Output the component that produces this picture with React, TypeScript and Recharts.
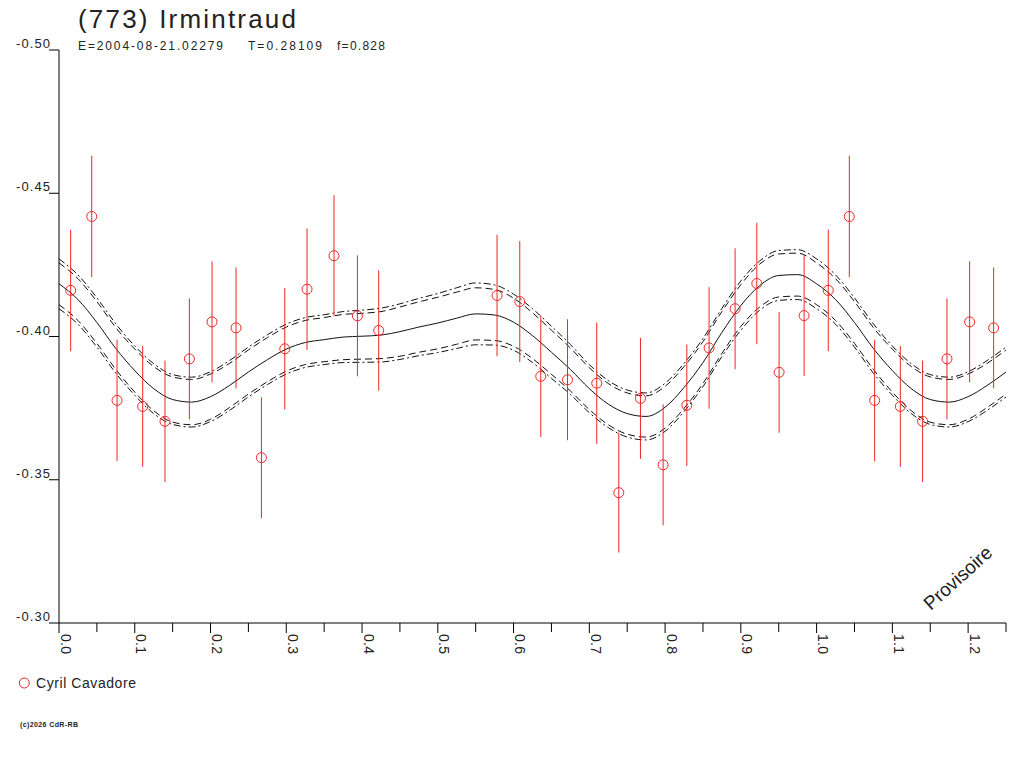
import React from "react";
import { ComposedChart, Line, Scatter, ErrorBar, XAxis, YAxis } from "recharts";

// observations (phase, reduced magnitude, 1-sigma)
const phases = [
  0.0154, 0.0432, 0.0766, 0.1105, 0.1399, 0.1721, 0.202, 0.2337, 0.2672, 0.298,
  0.3274, 0.363, 0.3939, 0.422, 0.5782, 0.6082, 0.6359, 0.6712, 0.7098, 0.7389,
  0.7675, 0.7974, 0.8287, 0.8581, 0.8924, 0.9211, 0.9505, 0.9835,
];
const mags = [
  -0.4161, -0.4419, -0.3777, -0.3756, -0.3704, -0.3922, -0.4051, -0.403, -0.3577, -0.3957,
  -0.4165, -0.4282, -0.4072, -0.4021, -0.4143, -0.4122, -0.3861, -0.3849, -0.3837, -0.3455,
  -0.3784, -0.3552, -0.376, -0.396, -0.4097, -0.4185, -0.3875, -0.4073,
];
const errs = [
  0.0212, 0.0212, 0.0212, 0.0211, 0.0212, 0.0211, 0.0211, 0.0211, 0.0211, 0.0212,
  0.0212, 0.0211, 0.0211, 0.021, 0.0212, 0.0211, 0.0212, 0.0211, 0.0212, 0.0209,
  0.0211, 0.0211, 0.0212, 0.0212, 0.0211, 0.0212, 0.0211, 0.0211,
];

// fitted curve, sampled every 0.025 in phase over one cycle
const fitStep = 0.025;
const fitMag = [
  -0.4184, -0.4129, -0.4049, -0.3958, -0.3881, -0.3818, -0.378, -0.3771, -0.379, -0.3829,
  -0.3876, -0.3919, -0.3956, -0.3979, -0.3989, -0.3998, -0.4001, -0.4005, -0.4017, -0.4033,
  -0.4047, -0.4064, -0.4079, -0.4075, -0.405, -0.4003, -0.3945, -0.3885, -0.3818, -0.3764,
  -0.3731, -0.3721, -0.3753, -0.3822, -0.3909, -0.4014, -0.4108, -0.4178, -0.4213, -0.4216,
  -0.4184,
];
// half widths of the two envelopes around the fit (dashed, dash-dot)
const innerHalf = [
  0.0073, 0.0073, 0.0073, 0.0073, 0.0075, 0.0077, 0.0079, 0.0079, 0.0079, 0.0077,
  0.0077, 0.0077, 0.0077, 0.0077, 0.0077, 0.0079, 0.008, 0.0082, 0.0086, 0.0088,
  0.009, 0.0091, 0.0091, 0.0089, 0.0084, 0.008, 0.0077, 0.0075, 0.0073, 0.0072,
  0.0072, 0.0072, 0.0073, 0.0073, 0.0073, 0.0073, 0.0073, 0.0075, 0.0075, 0.0075,
  0.0073,
];
const outerHalf = [
  0.0087, 0.0086, 0.0086, 0.0086, 0.0086, 0.0087, 0.0087, 0.0087, 0.0087, 0.0087,
  0.0087, 0.0087, 0.0087, 0.0087, 0.0087, 0.0089, 0.0091, 0.0094, 0.0097, 0.01,
  0.0103, 0.0106, 0.0108, 0.0105, 0.0098, 0.0094, 0.0091, 0.0087, 0.0084, 0.0082,
  0.0082, 0.0082, 0.0084, 0.0084, 0.0084, 0.0084, 0.0086, 0.0086, 0.0087, 0.0087,
  0.0087,
];

const xTicks = [
  0, 0.05, 0.1, 0.15, 0.2, 0.25, 0.3, 0.35, 0.4, 0.45, 0.5, 0.55, 0.6,
  0.65, 0.7, 0.75, 0.8, 0.85, 0.9, 0.95, 1.0, 1.05, 1.1, 1.15, 1.2, 1.25,
];
const yTicks = [-0.5, -0.45, -0.4, -0.35, -0.3];

const title = "(773) Irmintraud";
const epochText = "E=2004-08-21.02279";
const periodText = "T=0.28109";
const fracText = "f=0.828";
const observer = "Cyril Cavadore";
const copyright = "(c)2026 CdR-RB";
const stamp = "Provisoire";

const PHASE_MAX = 1.25;
const RED = "#ee2626";
const INK = "#111";
const FONT = "'Liberation Sans', Arial, sans-serif";

// phase-folded plot shows a quarter cycle twice
const obs = phases.map((p, i) => ({ x: p, y: mags[i], err: errs[i] }));
const points = [
  ...obs,
  ...obs.filter((d) => d.x + 1 <= PHASE_MAX).map((d) => ({ ...d, x: d.x + 1 })),
];

function curve(offsets: number[] | null, sign: number) {
  const rows = fitMag.map((m, i) => ({
    x: i * fitStep,
    y: m + (offsets ? sign * offsets[i] : 0),
  }));
  const wrap = rows
    .slice(1)
    .filter((r) => r.x + 1 <= PHASE_MAX + 1e-9)
    .map((r) => ({ x: r.x + 1, y: r.y }));
  return [...rows, ...wrap];
}

const fitRows = curve(null, 0);
const innerUp = curve(innerHalf, -1);
const innerDown = curve(innerHalf, 1);
const outerUp = curve(outerHalf, -1);
const outerDown = curve(outerHalf, 1);

function XTick(props: any) {
  const { x, y, payload } = props;
  const v = payload.value as number;
  const major = Math.abs(v * 10 - Math.round(v * 10)) < 1e-6;
  return (
    <g>
      <line x1={x} x2={x} y1={y} y2={y + (major ? 10 : 9)} stroke="#000" />
      {major && (
        <text
          transform={`translate(${x + 1.5},${y + 11}) rotate(90)`}
          fontSize={14}
          fontFamily={FONT}
          fill="#222"
          textLength={20}
          lengthAdjust="spacing"
        >
          {v.toFixed(1)}
        </text>
      )}
    </g>
  );
}

function YTick(props: any) {
  const { x, y, payload } = props;
  return (
    <text
      x={x + 1}
      y={y - 2}
      textAnchor="end"
      fontSize={13}
      fontFamily={FONT}
      fill="#222"
      textLength={34}
      lengthAdjust="spacing"
    >
      {(payload.value as number).toFixed(2)}
    </text>
  );
}

function Ring(props: any) {
  const { cx, cy } = props;
  return <circle cx={cx} cy={cy} r={5} fill="none" stroke={RED} strokeWidth={1} />;
}

export default function App() {
  return (
    <div
      style={{
        position: "absolute",
        left: 0,
        top: 0,
        width: 1024,
        height: 768,
        background: "#fff",
      }}
    >
      <ComposedChart
        width={1024}
        height={768}
        margin={{ top: 50, right: 18, bottom: 115, left: 0 }}
      >
        <XAxis
          type="number"
          dataKey="x"
          domain={[0, PHASE_MAX]}
          ticks={xTicks}
          interval={0}
          tickSize={0}
          tickMargin={0}
          tickLine={false}
          tick={XTick}
          height={30}
          axisLine={{ stroke: "#000" }}
          allowDataOverflow
        />
        <YAxis
          type="number"
          dataKey="y"
          domain={[-0.5, -0.3]}
          reversed
          ticks={yTicks}
          interval={0}
          tickSize={10}
          tickMargin={0}
          tick={YTick}
          width={59}
          axisLine={{ stroke: "#000" }}
          tickLine={{ stroke: "#000" }}
          allowDataOverflow
        />
        <Line data={outerUp} dataKey="y" type="monotone" stroke={INK} strokeWidth={1}
          strokeDasharray="7 3 2 3" dot={false} isAnimationActive={false} />
        <Line data={innerUp} dataKey="y" type="monotone" stroke={INK} strokeWidth={1}
          strokeDasharray="7 4" dot={false} isAnimationActive={false} />
        <Line data={fitRows} dataKey="y" type="monotone" stroke={INK} strokeWidth={1}
          dot={false} isAnimationActive={false} />
        <Line data={innerDown} dataKey="y" type="monotone" stroke={INK} strokeWidth={1}
          strokeDasharray="7 4" dot={false} isAnimationActive={false} />
        <Line data={outerDown} dataKey="y" type="monotone" stroke={INK} strokeWidth={1}
          strokeDasharray="7 3 2 3" dot={false} isAnimationActive={false} />
        <Scatter data={points} dataKey="y" shape={Ring} isAnimationActive={false}>
          <ErrorBar dataKey="err" direction="y" width={0} stroke={RED} strokeWidth={1} />
        </Scatter>
      </ComposedChart>

      <svg
        width={1024}
        height={768}
        style={{ position: "absolute", left: 0, top: 0, pointerEvents: "none" }}
        fontFamily={FONT}
      >
        <text x={78} y={28} fontSize={26} fill="#222" textLength={218} lengthAdjust="spacing">
          {title}
        </text>
        <text x={78} y={50} fontSize={12} fill="#222" textLength={145} lengthAdjust="spacing">
          {epochText}
        </text>
        <text x={248} y={50} fontSize={12} fill="#222" textLength={74} lengthAdjust="spacing">
          {periodText}
        </text>
        <text x={337} y={50} fontSize={12} fill="#222" textLength={48} lengthAdjust="spacing">
          {fracText}
        </text>

        <circle cx={24.3} cy={683} r={5} fill="none" stroke={RED} strokeWidth={1} />
        <text x={36} y={687.5} fontSize={14} fill="#222" textLength={100} lengthAdjust="spacing">
          {observer}
        </text>

        <text x={20} y={727} fontSize={7} fontWeight="bold" fill="#222" textLength={58}
          lengthAdjust="spacing">
          {copyright}
        </text>

        <text
          transform="translate(957.5,577.5) rotate(-42)"
          y={7}
          textAnchor="middle"
          fontSize={19}
          fill="#222"
        >
          {stamp}
        </text>
      </svg>
    </div>
  );
}
